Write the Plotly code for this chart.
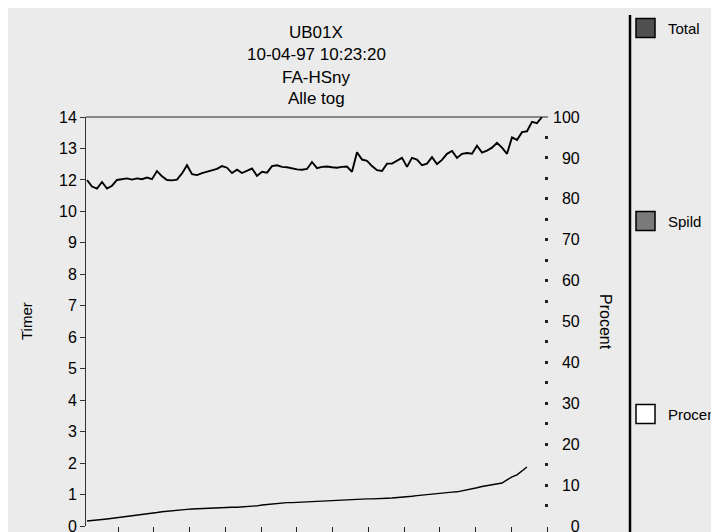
import plotly.graph_objects as go

# ---- data ----
title_lines = ["UB01X", "10-04-97 10:23:20", "FA-HSny", "Alle tog"]

# upper line (Procent, right axis), one value per position
procent = [84.6, 83.0, 82.5, 84.1, 82.5, 83.2, 84.6, 84.8, 85.0, 84.7,
           85.0, 84.8, 85.2, 84.8, 86.8, 85.5, 84.6, 84.5, 84.7, 86.2,
           88.2, 86.0, 85.8, 86.3, 86.6, 86.9, 87.3, 88.0, 87.6, 86.3,
           87.1, 86.3, 86.9, 87.4, 85.6, 86.6, 86.4, 88.0, 88.2, 87.8,
           87.7, 87.4, 87.2, 87.1, 87.3, 89.0, 87.5, 87.8, 87.9, 87.7,
           87.6, 87.8, 87.9, 86.6, 91.4, 89.6, 89.3, 88.0, 87.0, 86.8,
           88.6, 88.6, 89.3, 90.0, 87.8, 90.0, 89.6, 88.2, 88.6, 90.2,
           88.5, 89.5, 91.0, 91.7, 90.0, 91.0, 91.2, 91.0, 93.0, 91.3,
           91.8, 92.5, 93.7, 92.5, 91.0, 95.0, 94.4, 96.3, 96.5, 98.8,
           98.5, 100.0]

# lower line (Spild, hours, left axis)
spild = [0.17, 0.18, 0.20, 0.22, 0.24, 0.26, 0.28, 0.30, 0.33, 0.35,
         0.37, 0.39, 0.41, 0.43, 0.46, 0.49, 0.51, 0.53, 0.55, 0.56,
         0.57, 0.58, 0.59, 0.60, 0.61, 0.62, 0.62, 0.63, 0.63, 0.64,
         0.64, 0.65, 0.65, 0.66, 0.69, 0.72, 0.74, 0.76, 0.78, 0.79,
         0.80, 0.80, 0.81, 0.82, 0.82, 0.84, 0.85, 0.86, 0.87, 0.88,
         0.89, 0.90, 0.91, 0.92, 0.92, 0.92, 0.93, 0.93, 0.93, 0.94,
         0.95, 0.96, 0.97, 0.98, 1.00, 1.02, 1.04, 1.06, 1.08, 1.10,
         1.11, 1.12, 1.14, 1.16, 1.17, 1.20, 1.24, 1.28, 1.31, 1.35,
         1.38, 1.41, 1.44, 1.47, 1.58, 1.68, 1.75, 1.88, 2.02]

left_ticktext = ["0", "1", "2", "3", "4", "5", "6", "7", "8", "9", "10", "12", "13", "14"]
right_tickvals = [0, 10, 20, 30, 40, 50, 60, 70, 80, 90, 100]
legend_names = ["Total", "Spild", "Procent"]
legend_fills = ["#505050", "#7a7a7a", "#ffffff"]

x_up = list(range(len(procent)))
x_lo = list(range(len(spild)))

FONT = "Liberation Sans, Arial, sans-serif"
BG = "#ebebeb"
OFF = 8  # page body margin
W, H = 711, 524
L, R, T, B = 78, 171, 109, 6
PW, PH = W - L - R, H - T - B


def px_x(p):
    """page x pixel -> paper coordinate"""
    return (p - OFF - L) / PW


def px_y(p):
    """page y pixel -> paper coordinate"""
    return (H - B - (p - OFF)) / PH


fig = go.Figure()
fig.add_trace(go.Scatter(x=x_up, y=procent, mode="lines", yaxis="y2",
                         line=dict(color="black", width=1.9), name="Procent",
                         showlegend=False))
fig.add_trace(go.Scatter(x=x_lo, y=spild, mode="lines", yaxis="y",
                         line=dict(color="black", width=1.4), name="Spild",
                         showlegend=False))

ymax = 14
fig.update_layout(
    width=W, height=H,
    margin=dict(l=L, r=R, t=T, b=B, autoexpand=False),
    paper_bgcolor=BG, plot_bgcolor=BG,
    font=dict(family=FONT, size=16, color="black"),
    xaxis=dict(range=[-0.2, 92.2], showgrid=False, zeroline=False, automargin=False,
               showline=False, showticklabels=False, ticks="outside",
               ticklen=6, tickcolor="#222", tick0=6.2, dtick=7.15),
    yaxis=dict(range=[0, ymax], showgrid=False, zeroline=False, automargin=False,
               showline=True, linecolor="#333", linewidth=1,
               ticks="outside", ticklen=5, tickcolor="#333",
               ticklabeloverflow="allow",
               tickvals=[ymax * k / 13 for k in range(14)],
               ticktext=left_ticktext),
    yaxis2=dict(range=[0, 100], overlaying="y", side="right", automargin=False,
                showgrid=False, zeroline=False, showline=False,
                ticks="inside", ticklen=3, tickwidth=3, tickcolor="#222",
                ticklabelstandoff=4, ticklabeloverflow="allow",
                tickvals=right_tickvals,
                ticktext=[("\u2007" * (3 - len(str(v)))) + str(v) for v in right_tickvals],
                minor=dict(dtick=5, ticks="inside", ticklen=3, tickwidth=3,
                           tickcolor="#222", showgrid=False)),
)

shapes = []
# top border of plot
shapes.append(dict(type="line", xref="paper", yref="paper", x0=0, x1=1, y0=1, y1=1,
                   line=dict(color="#222", width=1)))
# legend separator
shapes.append(dict(type="line", xref="paper", yref="paper",
                   x0=px_x(630), x1=px_x(630), y0=px_y(15), y1=px_y(540),
                   line=dict(color="black", width=2.5)))
legend_y = [28, 221, 414]
annotations = []
for name, fill, cy in zip(legend_names, legend_fills, legend_y):
    shapes.append(dict(type="rect", xref="paper", yref="paper",
                       x0=px_x(636), x1=px_x(655), y0=px_y(cy - 9.5), y1=px_y(cy + 9.5),
                       fillcolor=fill, line=dict(color="black", width=1.5)))
    annotations.append(dict(text=name, xref="paper", yref="paper", x=px_x(666), y=px_y(cy),
                            xanchor="left", yanchor="middle", showarrow=False,
                            font=dict(size=15)))

for line, cy in zip(title_lines, [32, 54, 77, 98]):
    annotations.append(dict(text=line, xref="paper", yref="paper", x=px_x(316), y=px_y(cy),
                            xanchor="center", yanchor="middle", showarrow=False,
                            font=dict(size=17)))

annotations.append(dict(text="Timer", xref="paper", yref="paper", x=px_x(26), y=px_y(321),
                        textangle=-90, showarrow=False, xanchor="center", yanchor="middle",
                        font=dict(size=15)))
annotations.append(dict(text="Procent", xref="paper", yref="paper", x=px_x(606), y=px_y(322),
                        textangle=90, showarrow=False, xanchor="center", yanchor="middle",
                        font=dict(size=16)))

fig.update_layout(shapes=shapes, annotations=annotations)
fig.write_html("out.html")
